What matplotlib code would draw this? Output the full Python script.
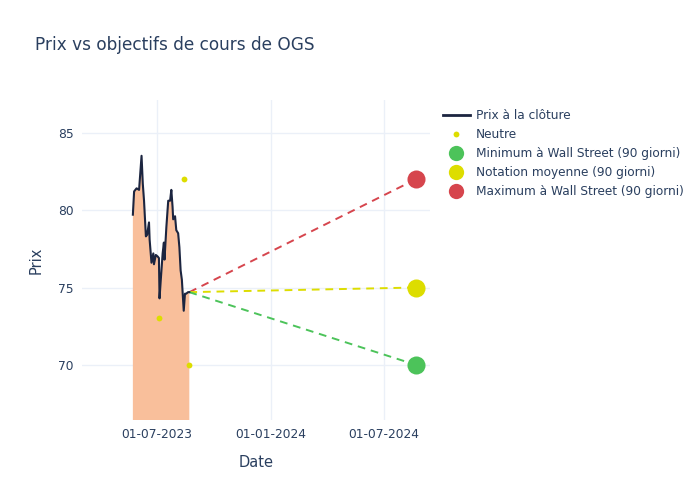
import matplotlib
matplotlib.use("Agg")
import matplotlib.pyplot as plt
import matplotlib.dates as mdates
from matplotlib.lines import Line2D
import numpy as np
import pandas as pd

plt.rcParams['font.family'] = ['DejaVu Sans']

# closing prices
price_dates = ["2023-05-23", "2023-05-25", "2023-05-29", "2023-06-02", "2023-06-06",
               "2023-06-08", "2023-06-10", "2023-06-13", "2023-06-15", "2023-06-18",
               "2023-06-19", "2023-06-22", "2023-06-25", "2023-06-26", "2023-06-29",
               "2023-07-02", "2023-07-04", "2023-07-05", "2023-07-07", "2023-07-10",
               "2023-07-12", "2023-07-13", "2023-07-16", "2023-07-19", "2023-07-22",
               "2023-07-24", "2023-07-26", "2023-07-27", "2023-07-30", "2023-08-01",
               "2023-08-04", "2023-08-06", "2023-08-08", "2023-08-10", "2023-08-13",
               "2023-08-15", "2023-08-17", "2023-08-20", "2023-08-22"]
price_values = [79.7, 81.2, 81.4, 81.3, 83.5,
                81.7, 80.6, 78.3, 78.4, 79.2,
                78.1, 76.6, 77.2, 76.5, 77.1,
                77.0, 76.9, 74.3, 75.5, 77.2,
                77.9, 76.8, 78.9, 80.6, 80.6,
                81.3, 80.2, 79.4, 79.6, 78.7,
                78.5, 77.6, 76.1, 75.5, 73.5,
                74.6, 74.6, 74.7, 74.7]

# individual analyst ratings (Neutre)
neutral_dates = ["2023-07-04", "2023-08-13", "2023-08-22"]
neutral_values = [73, 82, 70]

# 90-day targets
target_date = "2024-08-22"
target_min = 70
target_avg = 75
target_max = 82

dates = pd.to_datetime(price_dates)
tdate = pd.Timestamp(target_date)
last_date = dates[-1]
last_val = price_values[-1]

text_color = '#2a3f5f'
grid_color = '#ebf0f8'

fig = plt.figure(figsize=(7, 5), dpi=100)
ax = fig.add_axes([82 / 700, 1 - 420 / 500, 348 / 700, 320 / 500])

ax.fill_between(dates, price_values, 0, color='#f9bf9b', lw=0, zorder=1)
ax.plot(dates, price_values, color='#1c2540', lw=1.5, zorder=3)

ax.plot([last_date, tdate], [last_val, target_max], color='#d6454d', lw=1.4,
        dashes=(4, 3), zorder=2)
ax.plot([last_date, tdate], [last_val, target_avg], color='#dddd00', lw=1.4,
        dashes=(4, 3), zorder=2)
ax.plot([last_date, tdate], [last_val, target_min], color='#4cc35a', lw=1.4,
        dashes=(4, 3), zorder=2)

ax.plot(pd.to_datetime(neutral_dates), neutral_values, 'o', color='#dddd00',
        ms=4.2, mew=0, zorder=4)
ax.plot([tdate], [target_min], 'o', color='#4cc35a', ms=13, mew=0, zorder=4)
ax.plot([tdate], [target_avg], 'o', color='#dddd00', ms=13, mew=0, zorder=4)
ax.plot([tdate], [target_max], 'o', color='#d6454d', ms=13, mew=0, zorder=4)

ax.set_xlim(pd.Timestamp("2023-03-02"), pd.Timestamp("2024-09-13"))
ax.set_ylim(66.45, 87.1)
ax.set_yticks([70, 75, 80, 85])
ax.set_xticks(pd.to_datetime(["2023-07-01", "2024-01-01", "2024-07-01"]))
ax.xaxis.set_major_formatter(mdates.DateFormatter('%d-%m-%Y'))
ax.grid(True, color=grid_color, lw=1)
ax.set_axisbelow(True)
for s in ax.spines.values():
    s.set_visible(False)
ax.tick_params(length=0, labelsize=8.8, colors=text_color, pad=6)
ax.set_xlabel("Date", fontsize=10.5, color=text_color, labelpad=10)
ax.set_ylabel("Prix", fontsize=10.5, color=text_color, labelpad=10)

fig.text(35 / 700, 1 - 45 / 500, "Prix vs objectifs de cours de OGS", fontsize=12.2,
         color=text_color, va='center', ha='left')

handles = [
    Line2D([], [], color='#1c2540', lw=2),
    Line2D([], [], marker='o', ls='', color='#dddd00', ms=4.2, mew=0),
    Line2D([], [], marker='o', ls='', color='#4cc35a', ms=11, mew=0),
    Line2D([], [], marker='o', ls='', color='#dddd00', ms=11, mew=0),
    Line2D([], [], marker='o', ls='', color='#d6454d', ms=11, mew=0),
]
labels = ["Prix à la clôture", "Neutre", "Minimum à Wall Street (90 giorni)",
          "Notation moyenne (90 giorni)", "Maximum à Wall Street (90 giorni)"]
leg = fig.legend(handles, labels, loc='upper left', bbox_to_anchor=(443 / 700, 1 - 109 / 500),
                 frameon=False, fontsize=8.7, handlelength=2.2, handletextpad=0.55,
                 labelspacing=0.5, borderaxespad=0, borderpad=0)
for t in leg.get_texts():
    t.set_color(text_color)

fig.savefig("out.png", dpi=100)
